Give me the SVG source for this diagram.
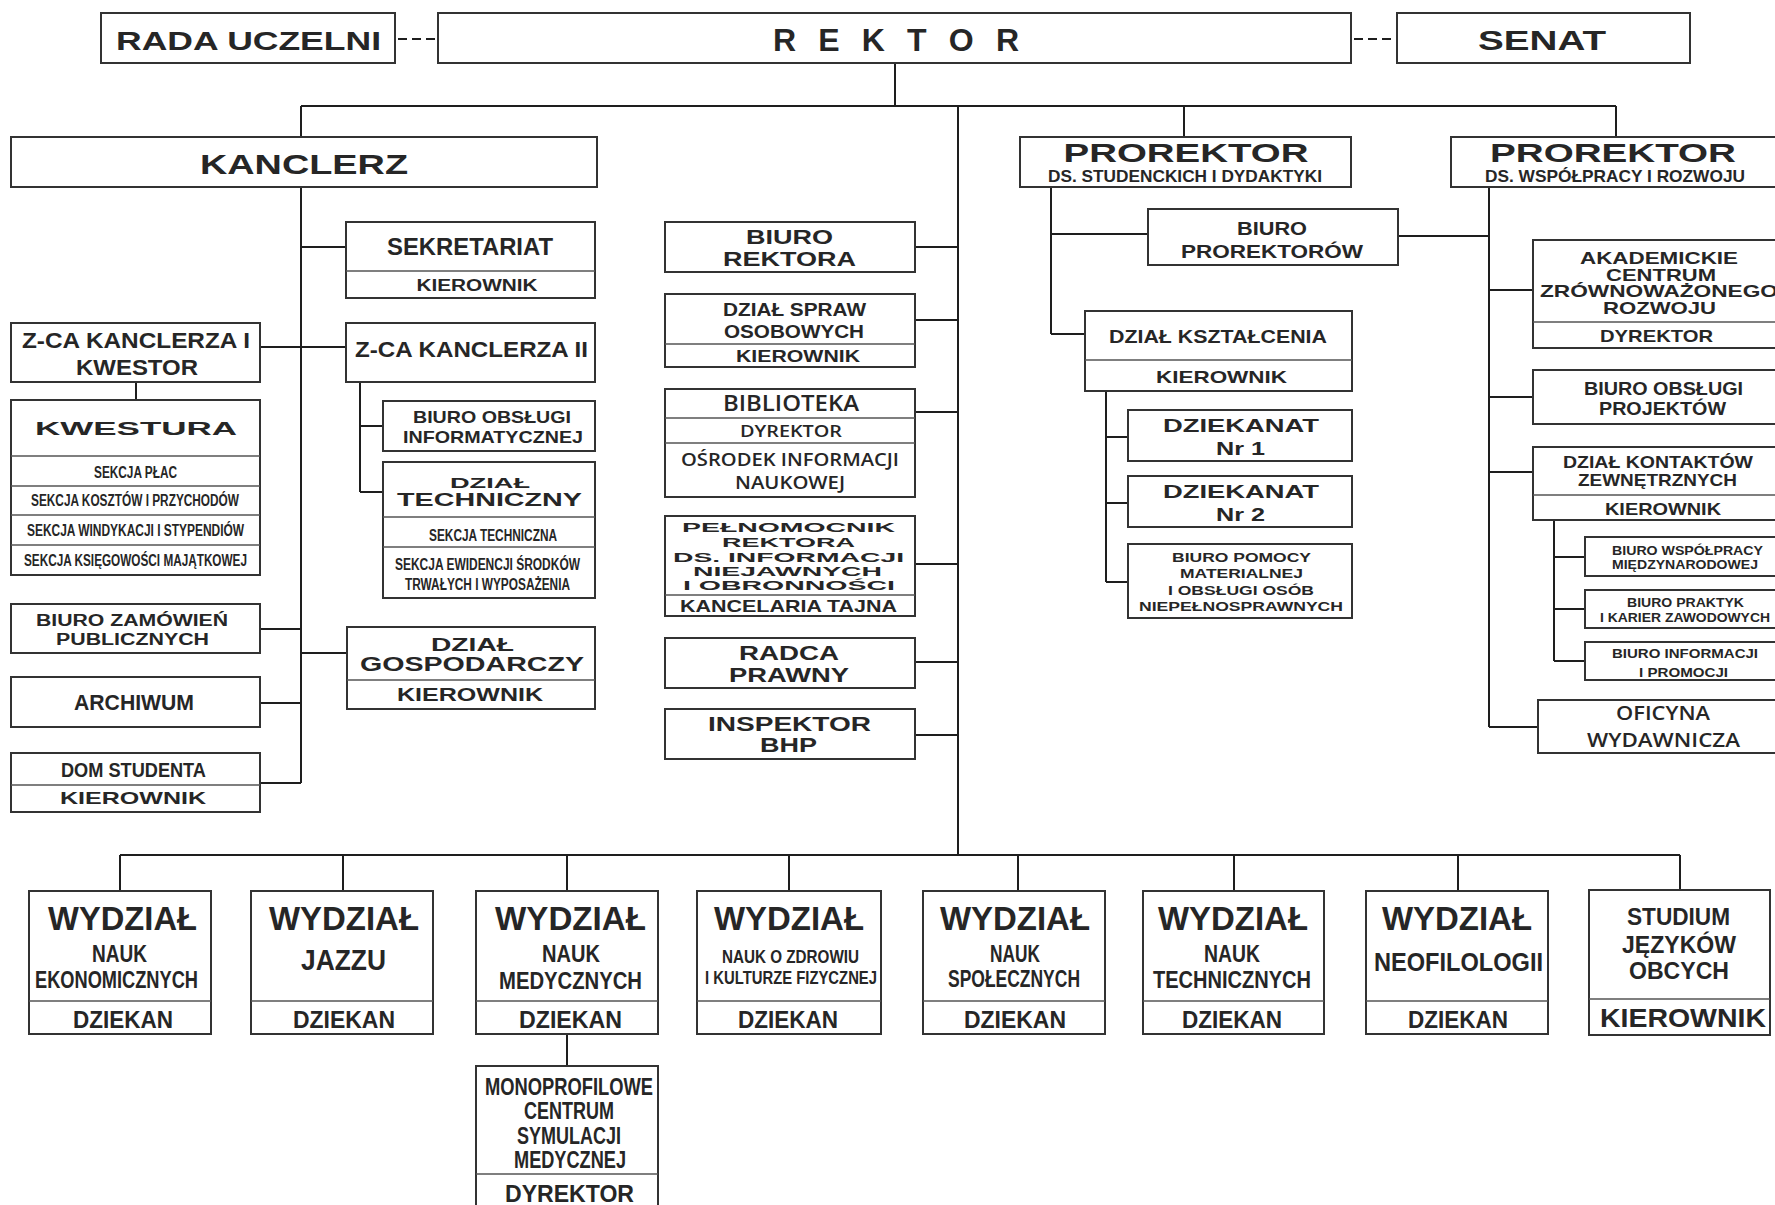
<svg xmlns="http://www.w3.org/2000/svg" width="1775" height="1205" viewBox="0 0 1775 1205">
<style>
.b{fill:#fff;stroke:#333;stroke-width:2}
.d{stroke:#555;stroke-width:1.5}
.c{stroke:#1e1e1e;stroke-width:2;fill:none}
.t{font-family:"Liberation Sans",Arial,sans-serif;font-weight:bold;fill:#262626;text-anchor:middle}
.o{font-family:"Open Sans","Liberation Sans",sans-serif;font-weight:600;fill:#262626;text-anchor:middle}
</style>
<rect width="1775" height="1205" fill="#fff"/>
<g id="connectors">
<path class="c" d="M395,39 H438" stroke-dasharray="9 5" stroke-dashoffset="-3"/>
<path class="c" d="M1351,39 H1397" stroke-dasharray="9 5" stroke-dashoffset="-3"/>
<path class="c" d="M895,63 V106 M301,106 H1616 M301,106 V137 M958,106 V855 M1184,106 V137"/>
<path class="c" d="M1616,106 V137" stroke-width="3"/>
<path class="c" d="M301,187 V783 M301,247 H346 M260,347 H346 M136,382 V400 M360,382 V492 M360,426 H383 M360,492 H383 M260,629 H301 M301,653 H347 M260,703 H301 M260,783 H301"/>
<path class="c" d="M915,247 H958 M915,320 H958 M915,412 H958 M915,564 H958 M915,662 H958 M915,735 H958"/>
<path class="c" d="M1051,187 V334 M1051,234 H1148 M1051,334 H1085 M1398,236 H1489 M1106,391 V582 M1106,437 H1128 M1106,503 H1128 M1106,582 H1128"/>
<path class="c" d="M1489,187 V727 M1489,290 H1533 M1489,397 H1533 M1489,472 H1533 M1489,727 H1538 M1554,520 V661 M1554,557 H1585 M1554,609 H1585 M1554,661 H1585"/>
<path class="c" d="M120,855 H1680 M120,855 V891 M343,855 V891 M567,855 V891 M789,855 V891 M1018,855 V891 M1234,855 V891 M1458,855 V891 M1680,855 V891 M567,1034 V1066"/>
</g>
<g id="rada"><rect class="b" x="101" y="13" width="294" height="50"/><text class="t" x="248.5" y="50" font-size="25" textLength="265" lengthAdjust="spacingAndGlyphs">RADA  UCZELNI</text></g>
<g id="rektor"><rect class="b" x="438" y="13" width="913" height="50"/><text class="t" x="896" y="51" font-size="32" textLength="246" lengthAdjust="spacing">R E K T O R</text></g>
<g id="senat"><rect class="b" x="1397" y="13" width="293" height="50"/><text class="t" x="1542" y="50" font-size="28" textLength="128" lengthAdjust="spacingAndGlyphs">SENAT</text></g>
<g id="kanclerz"><rect class="b" x="11" y="137" width="586" height="50"/><text class="t" x="304" y="174" font-size="28" textLength="208" lengthAdjust="spacingAndGlyphs">KANCLERZ</text></g>
<g id="prorektor1"><rect class="b" x="1020" y="137" width="331" height="50"/><text class="t" x="1186" y="162" font-size="26" textLength="245" lengthAdjust="spacingAndGlyphs">PROREKTOR</text><text class="t" x="1185" y="182" font-size="17" textLength="274" lengthAdjust="spacingAndGlyphs">DS. STUDENCKICH  I  DYDAKTYKI</text></g>
<g id="prorektor2"><rect class="b" x="1451" y="137" width="340" height="50"/><text class="t" x="1613" y="162" font-size="26" textLength="246" lengthAdjust="spacingAndGlyphs">PROREKTOR</text><text class="t" x="1615" y="182" font-size="17" textLength="260" lengthAdjust="spacingAndGlyphs">DS. WSPÓŁPRACY  I  ROZWOJU</text></g>
<g id="sekretariat"><rect class="b" x="346" y="222" width="249" height="76"/><line class="d" x1="346" y1="271" x2="595" y2="271"/><text class="t" x="470" y="255" font-size="24" textLength="166" lengthAdjust="spacingAndGlyphs">SEKRETARIAT</text><text class="t" x="477" y="291" font-size="16" textLength="121" lengthAdjust="spacingAndGlyphs">KIEROWNIK</text></g>
<g id="zca1"><rect class="b" x="11" y="323" width="249" height="59"/><text class="t" x="136" y="348" font-size="22" textLength="228" lengthAdjust="spacingAndGlyphs">Z-CA KANCLERZA I</text><text class="t" x="137" y="375" font-size="22" textLength="122" lengthAdjust="spacingAndGlyphs">KWESTOR</text></g>
<g id="zca2"><rect class="b" x="346" y="323" width="249" height="59"/><text class="t" x="471.5" y="357" font-size="22" textLength="233" lengthAdjust="spacingAndGlyphs">Z-CA KANCLERZA II</text></g>
<g id="kwestura"><rect class="b" x="11" y="400" width="249" height="175"/><line class="d" x1="11" y1="456" x2="260" y2="456"/><line class="d" x1="11" y1="486" x2="260" y2="486"/><line class="d" x1="11" y1="515" x2="260" y2="515"/><line class="d" x1="11" y1="545" x2="260" y2="545"/>
<text class="t" x="136" y="435" font-size="18" textLength="202" lengthAdjust="spacingAndGlyphs">KWESTURA</text>
<text class="t" x="135.5" y="478" font-size="16" textLength="83" lengthAdjust="spacingAndGlyphs">SEKCJA PŁAC</text>
<text class="t" x="135" y="506" font-size="16" textLength="208" lengthAdjust="spacingAndGlyphs">SEKCJA KOSZTÓW I PRZYCHODÓW</text>
<text class="t" x="135.5" y="536" font-size="16" textLength="217" lengthAdjust="spacingAndGlyphs">SEKCJA WINDYKACJI I STYPENDIÓW</text>
<text class="t" x="135.5" y="566" font-size="16" textLength="223" lengthAdjust="spacingAndGlyphs">SEKCJA KSIĘGOWOŚCI MAJĄTKOWEJ</text></g>
<g id="bi"><rect class="b" x="383" y="401" width="212" height="50"/><text class="t" x="492" y="423" font-size="17" textLength="158" lengthAdjust="spacingAndGlyphs">BIURO OBSŁUGI</text><text class="t" x="493" y="443" font-size="17" textLength="180" lengthAdjust="spacingAndGlyphs">INFORMATYCZNEJ</text></g>
<g id="dzial-techniczny"><rect class="b" x="383" y="462" width="212" height="136"/><line class="d" x1="383" y1="517" x2="595" y2="517"/><line class="d" x1="383" y1="547" x2="595" y2="547"/>
<text class="t" x="490" y="488" font-size="15" textLength="80" lengthAdjust="spacingAndGlyphs">DZIAŁ</text>
<text class="t" x="489.5" y="506" font-size="18" textLength="185" lengthAdjust="spacingAndGlyphs">TECHNICZNY</text>
<text class="t" x="493" y="541" font-size="16" textLength="128" lengthAdjust="spacingAndGlyphs">SEKCJA TECHNICZNA</text>
<text class="t" x="487.5" y="570" font-size="16" textLength="185" lengthAdjust="spacingAndGlyphs">SEKCJA EWIDENCJI ŚRODKÓW</text>
<text class="t" x="487.5" y="590" font-size="16" textLength="165" lengthAdjust="spacingAndGlyphs">TRWAŁYCH I WYPOSAŻENIA</text></g>
<g id="bzp"><rect class="b" x="11" y="604" width="249" height="49"/><text class="t" x="132" y="626" font-size="16" textLength="192" lengthAdjust="spacingAndGlyphs">BIURO ZAMÓWIEŃ</text><text class="t" x="132.5" y="645" font-size="16" textLength="153" lengthAdjust="spacingAndGlyphs">PUBLICZNYCH</text></g>
<g id="dzial-gospodarczy"><rect class="b" x="347" y="627" width="248" height="82"/><line class="d" x1="347" y1="680" x2="595" y2="680"/><text class="t" x="472.5" y="651" font-size="19" textLength="83" lengthAdjust="spacingAndGlyphs">DZIAŁ</text><text class="t" x="472" y="671" font-size="20" textLength="224" lengthAdjust="spacingAndGlyphs">GOSPODARCZY</text><text class="t" x="470" y="701" font-size="18" textLength="146" lengthAdjust="spacingAndGlyphs">KIEROWNIK</text></g>
<g id="archiwum"><rect class="b" x="11" y="677" width="249" height="50"/><text class="t" x="134" y="710" font-size="22" textLength="120" lengthAdjust="spacingAndGlyphs">ARCHIWUM</text></g>
<g id="dom-studenta"><rect class="b" x="11" y="753" width="249" height="59"/><line class="d" x1="11" y1="785" x2="260" y2="785"/><text class="t" x="133.5" y="777" font-size="21" textLength="145" lengthAdjust="spacingAndGlyphs">DOM  STUDENTA</text><text class="t" x="133" y="804" font-size="17" textLength="146" lengthAdjust="spacingAndGlyphs">KIEROWNIK</text></g>
<g id="biuro-rektora"><rect class="b" x="665" y="222" width="250" height="50"/><text class="t" x="789.5" y="244" font-size="20" textLength="87" lengthAdjust="spacingAndGlyphs">BIURO</text><text class="t" x="789.5" y="266" font-size="20" textLength="133" lengthAdjust="spacingAndGlyphs">REKTORA</text></g>
<g id="dso"><rect class="b" x="665" y="294" width="250" height="73"/><line class="d" x1="665" y1="344" x2="915" y2="344"/><text class="t" x="794.5" y="315.5" font-size="19" textLength="143" lengthAdjust="spacingAndGlyphs">DZIAŁ SPRAW</text><text class="t" x="794" y="337.5" font-size="19" textLength="140" lengthAdjust="spacingAndGlyphs">OSOBOWYCH</text><text class="t" x="798" y="361.5" font-size="16.5" textLength="124" lengthAdjust="spacingAndGlyphs">KIEROWNIK</text></g>
<g id="biblioteka"><rect class="b" x="665" y="389" width="250" height="108"/><line class="d" x1="665" y1="418" x2="915" y2="418"/><line class="d" x1="665" y1="443" x2="915" y2="443"/><text class="o" x="791" y="411" font-size="21" textLength="136" lengthAdjust="spacingAndGlyphs">BIBLIOTEKA</text><text class="o" x="791" y="437" font-size="17" textLength="102" lengthAdjust="spacingAndGlyphs">DYREKTOR</text><text class="o" x="790" y="465.5" font-size="18" textLength="218" lengthAdjust="spacingAndGlyphs">OŚRODEK INFORMACJI</text><text class="o" x="790" y="488.5" font-size="18" textLength="110" lengthAdjust="spacingAndGlyphs">NAUKOWEJ</text></g>
<g id="pelnomocnik"><rect class="b" x="665" y="516" width="250" height="100"/><line class="d" x1="665" y1="595" x2="915" y2="595"/>
<text class="t" x="788.5" y="532" font-size="13" textLength="213" lengthAdjust="spacingAndGlyphs">PEŁNOMOCNIK</text>
<text class="t" x="788.5" y="546.5" font-size="13" textLength="133" lengthAdjust="spacingAndGlyphs">REKTORA</text>
<text class="t" x="788.5" y="561.5" font-size="13" textLength="231" lengthAdjust="spacingAndGlyphs">DS. INFORMACJI</text>
<text class="t" x="787.5" y="575.5" font-size="13" textLength="189" lengthAdjust="spacingAndGlyphs">NIEJAWNYCH</text>
<text class="t" x="789" y="590" font-size="13" textLength="212" lengthAdjust="spacingAndGlyphs">I OBRONNOŚCI</text>
<text class="t" x="788.5" y="611.5" font-size="17" textLength="217" lengthAdjust="spacingAndGlyphs">KANCELARIA TAJNA</text></g>
<g id="radca"><rect class="b" x="665" y="638" width="250" height="50"/><text class="t" x="789" y="660" font-size="21" textLength="100" lengthAdjust="spacingAndGlyphs">RADCA</text><text class="t" x="789" y="682" font-size="21" textLength="120" lengthAdjust="spacingAndGlyphs">PRAWNY</text></g>
<g id="bhp"><rect class="b" x="665" y="709" width="250" height="50"/><text class="t" x="789.5" y="731" font-size="21" textLength="163" lengthAdjust="spacingAndGlyphs">INSPEKTOR</text><text class="t" x="788.5" y="752" font-size="21" textLength="57" lengthAdjust="spacingAndGlyphs">BHP</text></g>
<g id="biuro-prorektorow"><rect class="b" x="1148" y="209" width="250" height="56"/><text class="t" x="1272" y="235" font-size="19" textLength="70" lengthAdjust="spacingAndGlyphs">BIURO</text><text class="t" x="1272" y="258" font-size="19" textLength="182" lengthAdjust="spacingAndGlyphs">PROREKTORÓW</text></g>
<g id="dzial-ksztalcenia"><rect class="b" x="1085" y="311" width="267" height="80"/><line class="d" x1="1085" y1="360" x2="1352" y2="360"/><text class="t" x="1218" y="343" font-size="18" textLength="218" lengthAdjust="spacingAndGlyphs">DZIAŁ  KSZTAŁCENIA</text><text class="t" x="1221.5" y="383" font-size="17" textLength="131" lengthAdjust="spacingAndGlyphs">KIEROWNIK</text></g>
<g id="dziekanat1"><rect class="b" x="1128" y="410" width="224" height="51"/><text class="t" x="1241" y="432" font-size="19" textLength="156" lengthAdjust="spacingAndGlyphs">DZIEKANAT</text><text class="t" x="1240.5" y="455" font-size="19" textLength="49" lengthAdjust="spacingAndGlyphs">Nr 1</text></g>
<g id="dziekanat2"><rect class="b" x="1128" y="476" width="224" height="51"/><text class="t" x="1241" y="498" font-size="19" textLength="156" lengthAdjust="spacingAndGlyphs">DZIEKANAT</text><text class="t" x="1240.5" y="521" font-size="19" textLength="49" lengthAdjust="spacingAndGlyphs">Nr 2</text></g>
<g id="biuro-pomocy"><rect class="b" x="1128" y="544" width="224" height="74"/><text class="t" x="1241.5" y="562" font-size="13" textLength="139" lengthAdjust="spacingAndGlyphs">BIURO POMOCY</text><text class="t" x="1241.5" y="578" font-size="13" textLength="123" lengthAdjust="spacingAndGlyphs">MATERIALNEJ</text><text class="t" x="1241" y="595" font-size="13" textLength="146" lengthAdjust="spacingAndGlyphs">I OBSŁUGI OSÓB</text><text class="t" x="1241" y="611" font-size="13" textLength="204" lengthAdjust="spacingAndGlyphs">NIEPEŁNOSPRAWNYCH</text></g>
<g id="akademickie"><rect class="b" x="1533" y="240" width="260" height="108"/><line class="d" x1="1533" y1="322" x2="1793" y2="322"/><text class="t" x="1659" y="264" font-size="17" textLength="158" lengthAdjust="spacingAndGlyphs">AKADEMICKIE</text><text class="t" x="1661" y="280.5" font-size="17" textLength="110" lengthAdjust="spacingAndGlyphs">CENTRUM</text><text class="t" x="1659" y="297" font-size="17" textLength="238" lengthAdjust="spacingAndGlyphs">ZRÓWNOWAŻONEGO</text><text class="t" x="1659.5" y="314" font-size="17" textLength="113" lengthAdjust="spacingAndGlyphs">ROZWOJU</text><text class="t" x="1656.5" y="341.5" font-size="17" textLength="113" lengthAdjust="spacingAndGlyphs">DYREKTOR</text></g>
<g id="bop"><rect class="b" x="1533" y="370" width="260" height="54"/><text class="t" x="1663.5" y="395" font-size="18" textLength="159" lengthAdjust="spacingAndGlyphs">BIURO OBSŁUGI</text><text class="t" x="1662.5" y="415" font-size="18" textLength="127" lengthAdjust="spacingAndGlyphs">PROJEKTÓW</text></g>
<g id="dkz"><rect class="b" x="1533" y="447" width="260" height="73"/><line class="d" x1="1533" y1="495" x2="1793" y2="495"/><text class="t" x="1658" y="468" font-size="17" textLength="190" lengthAdjust="spacingAndGlyphs">DZIAŁ  KONTAKTÓW</text><text class="t" x="1657.5" y="486" font-size="17" textLength="159" lengthAdjust="spacingAndGlyphs">ZEWNĘTRZNYCH</text><text class="t" x="1663" y="514.5" font-size="17" textLength="116" lengthAdjust="spacingAndGlyphs">KIEROWNIK</text></g>
<g id="bwm"><rect class="b" x="1585" y="537" width="210" height="39"/><text class="t" x="1687.5" y="554.5" font-size="12.5" textLength="151" lengthAdjust="spacingAndGlyphs">BIURO WSPÓŁPRACY</text><text class="t" x="1685" y="569" font-size="12.5" textLength="146" lengthAdjust="spacingAndGlyphs">MIĘDZYNARODOWEJ</text></g>
<g id="bpk"><rect class="b" x="1585" y="590" width="210" height="38"/><text class="t" x="1685.5" y="607" font-size="12.5" textLength="117" lengthAdjust="spacingAndGlyphs">BIURO  PRAKTYK</text><text class="t" x="1685" y="622" font-size="12.5" textLength="170" lengthAdjust="spacingAndGlyphs">I KARIER  ZAWODOWYCH</text></g>
<g id="bip"><rect class="b" x="1585" y="642" width="210" height="38"/><text class="t" x="1685" y="658" font-size="12.5" textLength="146" lengthAdjust="spacingAndGlyphs">BIURO INFORMACJI</text><text class="t" x="1683.5" y="676.5" font-size="12.5" textLength="89" lengthAdjust="spacingAndGlyphs">I PROMOCJI</text></g>
<g id="oficyna"><rect class="b" x="1538" y="700" width="255" height="53"/><text class="o" x="1663" y="720" font-size="19" textLength="94" lengthAdjust="spacingAndGlyphs">OFICYNA</text><text class="o" x="1663.5" y="747" font-size="19" textLength="153" lengthAdjust="spacingAndGlyphs">WYDAWNICZA</text></g>
<g id="wydzial-ekon"><rect class="b" x="29" y="891" width="182" height="143"/><line class="d" x1="29" y1="1001" x2="211" y2="1001"/><text class="t" x="122.5" y="930" font-size="34" textLength="149" lengthAdjust="spacingAndGlyphs">WYDZIAŁ</text><text class="t" x="119.5" y="962" font-size="23" textLength="55" lengthAdjust="spacingAndGlyphs">NAUK</text><text class="t" x="116.5" y="988" font-size="24" textLength="163" lengthAdjust="spacingAndGlyphs">EKONOMICZNYCH</text><text class="t" x="123" y="1028" font-size="23" textLength="100" lengthAdjust="spacingAndGlyphs">DZIEKAN</text></g>
<g id="wydzial-jazzu"><rect class="b" x="251" y="891" width="182" height="143"/><line class="d" x1="251" y1="1001" x2="433" y2="1001"/><text class="t" x="344" y="930" font-size="34" textLength="150" lengthAdjust="spacingAndGlyphs">WYDZIAŁ</text><text class="t" x="343.5" y="970" font-size="30" textLength="85" lengthAdjust="spacingAndGlyphs">JAZZU</text><text class="t" x="344" y="1028" font-size="23" textLength="102" lengthAdjust="spacingAndGlyphs">DZIEKAN</text></g>
<g id="wydzial-med"><rect class="b" x="476" y="891" width="182" height="143"/><line class="d" x1="476" y1="1001" x2="658" y2="1001"/><text class="t" x="570.5" y="930" font-size="34" textLength="151" lengthAdjust="spacingAndGlyphs">WYDZIAŁ</text><text class="t" x="571" y="962" font-size="23" textLength="58" lengthAdjust="spacingAndGlyphs">NAUK</text><text class="t" x="570.5" y="989" font-size="24" textLength="143" lengthAdjust="spacingAndGlyphs">MEDYCZNYCH</text><text class="t" x="570.5" y="1028" font-size="23" textLength="103" lengthAdjust="spacingAndGlyphs">DZIEKAN</text></g>
<g id="wydzial-zdrowie"><rect class="b" x="697" y="891" width="184" height="143"/><line class="d" x1="697" y1="1001" x2="881" y2="1001"/><text class="t" x="789" y="930" font-size="34" textLength="150" lengthAdjust="spacingAndGlyphs">WYDZIAŁ</text><text class="t" x="790.5" y="963" font-size="18" textLength="137" lengthAdjust="spacingAndGlyphs">NAUK O  ZDROWIU</text><text class="t" x="791" y="984" font-size="18" textLength="172" lengthAdjust="spacingAndGlyphs">I KULTURZE FIZYCZNEJ</text><text class="t" x="788" y="1028" font-size="23" textLength="100" lengthAdjust="spacingAndGlyphs">DZIEKAN</text></g>
<g id="wydzial-spol"><rect class="b" x="923" y="891" width="182" height="143"/><line class="d" x1="923" y1="1001" x2="1105" y2="1001"/><text class="t" x="1015" y="930" font-size="34" textLength="150" lengthAdjust="spacingAndGlyphs">WYDZIAŁ</text><text class="t" x="1015" y="962" font-size="23" textLength="50" lengthAdjust="spacingAndGlyphs">NAUK</text><text class="t" x="1014" y="987" font-size="24" textLength="132" lengthAdjust="spacingAndGlyphs">SPOŁECZNYCH</text><text class="t" x="1015" y="1028" font-size="23" textLength="102" lengthAdjust="spacingAndGlyphs">DZIEKAN</text></g>
<g id="wydzial-tech"><rect class="b" x="1143" y="891" width="181" height="143"/><line class="d" x1="1143" y1="1001" x2="1324" y2="1001"/><text class="t" x="1233" y="930" font-size="34" textLength="150" lengthAdjust="spacingAndGlyphs">WYDZIAŁ</text><text class="t" x="1232" y="962" font-size="23" textLength="56" lengthAdjust="spacingAndGlyphs">NAUK</text><text class="t" x="1232" y="988" font-size="24" textLength="158" lengthAdjust="spacingAndGlyphs">TECHNICZNYCH</text><text class="t" x="1232" y="1028" font-size="23" textLength="100" lengthAdjust="spacingAndGlyphs">DZIEKAN</text></g>
<g id="wydzial-neo"><rect class="b" x="1366" y="891" width="182" height="143"/><line class="d" x1="1366" y1="1001" x2="1548" y2="1001"/><text class="t" x="1457" y="930" font-size="34" textLength="150" lengthAdjust="spacingAndGlyphs">WYDZIAŁ</text><text class="t" x="1458.5" y="971" font-size="25" textLength="169" lengthAdjust="spacingAndGlyphs">NEOFILOLOGII</text><text class="t" x="1458" y="1028" font-size="23" textLength="100" lengthAdjust="spacingAndGlyphs">DZIEKAN</text></g>
<g id="studium"><rect class="b" x="1589" y="890" width="181" height="145"/><line class="d" x1="1589" y1="999" x2="1770" y2="999"/><text class="t" x="1678.5" y="925" font-size="24" textLength="103" lengthAdjust="spacingAndGlyphs">STUDIUM</text><text class="t" x="1679" y="953" font-size="24" textLength="114" lengthAdjust="spacingAndGlyphs">JĘZYKÓW</text><text class="t" x="1679" y="979" font-size="24" textLength="100" lengthAdjust="spacingAndGlyphs">OBCYCH</text><text class="t" x="1683" y="1027" font-size="26" textLength="166" lengthAdjust="spacingAndGlyphs">KIEROWNIK</text></g>
<g id="monoprofilowe"><rect class="b" x="476" y="1066" width="182" height="150"/><line class="d" x1="476" y1="1174" x2="658" y2="1174"/><text class="t" x="569" y="1095" font-size="23" textLength="168" lengthAdjust="spacingAndGlyphs">MONOPROFILOWE</text><text class="t" x="569" y="1119" font-size="23" textLength="90" lengthAdjust="spacingAndGlyphs">CENTRUM</text><text class="t" x="569" y="1144" font-size="23" textLength="104" lengthAdjust="spacingAndGlyphs">SYMULACJI</text><text class="t" x="570" y="1168" font-size="23" textLength="112" lengthAdjust="spacingAndGlyphs">MEDYCZNEJ</text><text class="t" x="569.5" y="1202" font-size="24" textLength="129" lengthAdjust="spacingAndGlyphs">DYREKTOR</text></g>
</svg>
